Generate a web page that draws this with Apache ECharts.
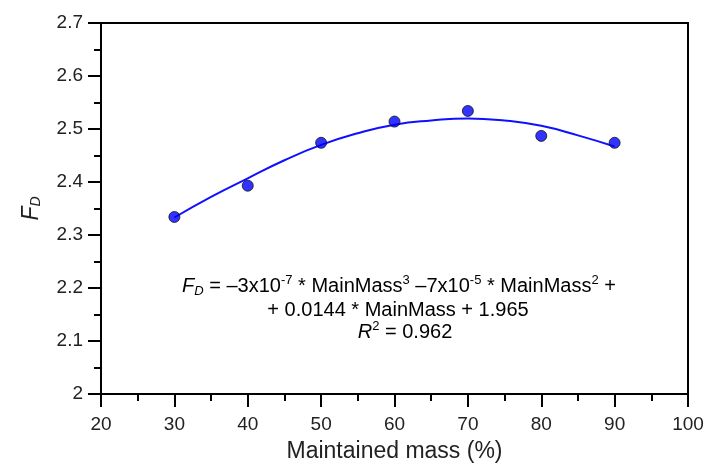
<!DOCTYPE html>
<html>
<head>
<meta charset="utf-8">
<script src="https://cdn.jsdelivr.net/npm/echarts@6/dist/echarts.min.js"></script>
<style>html,body{margin:0;padding:0;background:#fff}#c{width:707px;height:469px}</style>
</head>
<body>
<div id="c"></div>
<script>
// Measured points
var massX = [30, 40, 50, 60, 70, 80, 90];
var fdValues = [2.334, 2.393, 2.474, 2.514, 2.534, 2.487, 2.474];
// Fitted curve
var fitX = [30, 35, 40, 45, 50, 55, 60, 65, 70, 75, 80, 85, 90];
var fitY = [2.333, 2.372, 2.407, 2.441, 2.470, 2.492, 2.508, 2.516, 2.520, 2.516, 2.506, 2.488, 2.467];
var xTicks = [20, 30, 40, 50, 60, 70, 80, 90, 100];
var yTicks = [2, 2.1, 2.2, 2.3, 2.4, 2.5, 2.6, 2.7];

var FONT = 'Liberation Sans, Arial, sans-serif';
var chart = echarts.init(document.getElementById('c'));
function pairs(xs, ys){ return xs.map(function(x,i){return [x, ys[i]];}); }

var eqStyle = {fontFamily: FONT, fontSize: 20, color: '#000', lineHeight: 24, align: 'center',
  rich: {
    i: {fontFamily: FONT, fontSize: 20, fontStyle: 'italic', color: '#000', lineHeight: 24},
    sub: {fontFamily: FONT, fontSize: 13, fontStyle: 'italic', color: '#000', verticalAlign: 'bottom', lineHeight: 18},
    sup: {fontFamily: FONT, fontSize: 13, color: '#000', verticalAlign: 'top', lineHeight: 16},
    n: {fontFamily: FONT, fontSize: 20, color: '#000', lineHeight: 24}
  }};

var axisCommon = {
  axisLine: {show: true, onZero: false, lineStyle: {color: '#000', width: 2}},
  axisTick: {show: true, inside: false, length: 13, lineStyle: {color: '#000', width: 2}},
  minorTick: {show: true, splitNumber: 2, length: 7, lineStyle: {color: '#000', width: 2}},
  splitLine: {show: false}
};

chart.setOption({
  animation: false,
  backgroundColor: '#fff',
  grid: {left: 101, right: 19, top: 23, bottom: 75, containLabel: false},
  xAxis: [
    Object.assign({}, axisCommon, {
      type: 'value', min: xTicks[0], max: xTicks[xTicks.length-1], interval: 10,
      name: 'Maintained mass (%)', nameLocation: 'middle', nameGap: 46,
      nameTextStyle: {fontFamily: FONT, fontSize: 23, color: '#222'},
      axisLabel: {fontFamily: FONT, fontSize: 19, color: '#222', margin: 21}
    }),
    {type: 'value', position: 'top', min: 20, max: 100,
     axisLine: {show: true, onZero: false, lineStyle: {color: '#000', width: 2}},
     axisTick: {show: false}, axisLabel: {show: false}, splitLine: {show: false}}
  ],
  yAxis: [
    Object.assign({}, axisCommon, {
      type: 'value', min: yTicks[0], max: yTicks[yTicks.length-1], interval: 0.1,
      name: '{i|F}{s|D}', nameLocation: 'middle', nameGap: 58,
      nameTextStyle: {fontFamily: FONT, fontSize: 22, color: '#222',
        rich: {i: {fontFamily: FONT, fontSize: 23, fontStyle: 'italic', color: '#222'},
               s: {fontFamily: FONT, fontSize: 14, fontStyle: 'italic', color: '#222', verticalAlign: 'bottom'}}},
      axisLabel: {fontFamily: FONT, fontSize: 19, color: '#222', margin: 18,
        formatter: function(v){ return String(Math.round(v*10)/10); }}
    }),
    {type: 'value', position: 'right', min: 2, max: 2.7,
     axisLine: {show: true, onZero: false, lineStyle: {color: '#000', width: 2}},
     axisTick: {show: false}, axisLabel: {show: false}, splitLine: {show: false}}
  ],
  series: [
    {type: 'line', data: pairs(fitX, fitY), smooth: true, showSymbol: false, symbol: 'none',
     lineStyle: {color: '#1010ff', width: 2}, z: 2},
    {type: 'scatter', data: pairs(massX, fdValues), symbol: 'circle', symbolSize: 11,
     itemStyle: {color: '#0000ff', borderColor: '#111', borderWidth: 1}, z: 3}
  ],
  graphic: [
    {type: 'text', x: 399, y: 274, style: Object.assign({}, eqStyle, {
      text: '{i|F}{sub|D}{n| = \u20133x10}{sup|-7}{n| * MainMass}{sup|3}{n| \u20137x10}{sup|-5}{n| * MainMass}{sup|2}{n| +}'})},
    {type: 'text', x: 398, y: 298, style: Object.assign({}, eqStyle, {
      text: '{n|+ 0.0144 * MainMass + 1.965}'})},
    {type: 'text', x: 405, y: 320, style: Object.assign({}, eqStyle, {
      text: '{i|R}{sup|2}{n| = 0.962}'})}
  ]
});
</script>
</body>
</html>
